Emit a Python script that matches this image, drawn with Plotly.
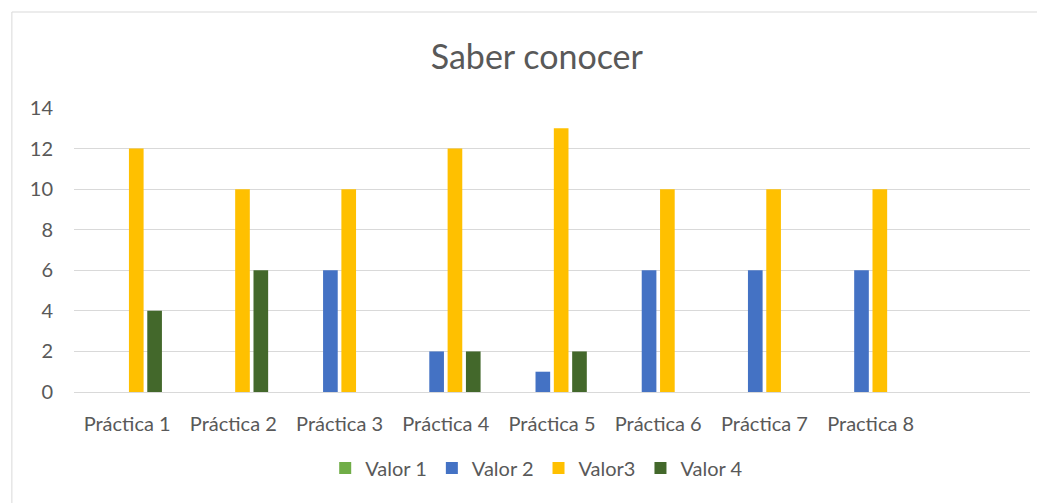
import plotly.graph_objects as go

# Saber conocer - clustered columns
categories = ["Práctica 1", "Práctica 2", "Práctica 3", "Práctica 4", "Práctica 5",
              "Práctica 6", "Práctica 7", "Practica 8", " "]
valor1 = [None, None, None, None, None, None, None, None, None]
valor2 = [None, None, 6, 2, 1, 6, 6, 6, None]
valor3 = [12, 10, 10, 12, 13, 10, 10, 10, None]
valor4 = [4, 6, None, 2, 2, None, None, None, None]

series = [("Valor 1", valor1, "#70AD47"),
          ("Valor 2", valor2, "#4472C4"),
          ("Valor3", valor3, "#FFC000"),
          ("Valor 4", valor4, "#43682B")]

fig = go.Figure()
for name, vals, col in series:
    fig.add_trace(go.Bar(x=categories, y=vals, name=name, marker_color=col,
                         marker_line_width=0))

# page body has an 8px margin, so the figure is a bit smaller than the window
fig.update_layout(
    width=1037, height=495,
    margin=dict(l=66, r=15, t=100, b=111),
    paper_bgcolor="white", plot_bgcolor="white",
    font=dict(family="Lato, Open Sans, sans-serif", size=20, color="#595959"),
    title=dict(text="Saber conocer", x=0.51, xanchor="center", y=0.901, yanchor="middle",
               yref="container", font=dict(size=34, color="#595959")),
    barmode="group", bargap=0.31, bargroupgap=0.2,
    legend=dict(orientation="h", xanchor="center", x=0.484, yanchor="middle", y=-0.268,
                font=dict(size=20), itemwidth=30, traceorder="normal"),
    showlegend=True,
)
fig.update_xaxes(showgrid=False, showline=False, ticks="", ticklabelstandoff=18,
                 categoryorder="array", categoryarray=categories)
fig.update_yaxes(range=[0, 14], dtick=2, showgrid=True, gridcolor="#D9D9D9", gridwidth=1,
                 zeroline=True, zerolinecolor="#D9D9D9", zerolinewidth=1,
                 showline=False, ticklabelstandoff=20)
fig.add_shape(type="rect", xref="paper", yref="paper", x0=-0.065, x1=1.2, y0=-0.6, y1=1.338,
              line=dict(color="#D9D9D9", width=1), fillcolor="rgba(0,0,0,0)", layer="below")

fig.write_html("out.html")
